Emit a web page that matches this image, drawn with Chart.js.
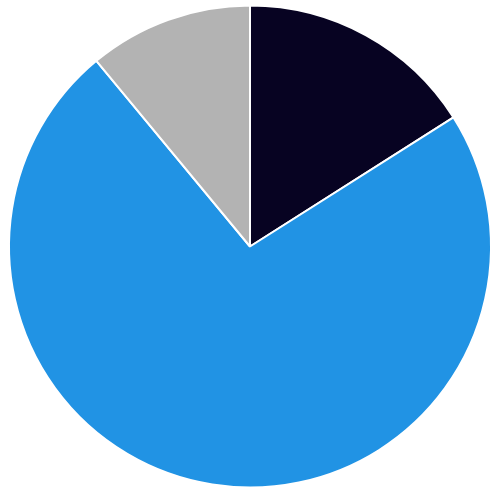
<!DOCTYPE html>
<html>
<head>
<meta charset="utf-8">
<script src="https://cdn.jsdelivr.net/npm/chart.js@4/dist/chart.umd.min.js"></script>
<style>
  html, body { margin: 0; padding: 0; background: #fff; }
  #wrap { width: 500px; height: 500px; }
</style>
</head>
<body>
<div id="wrap"><canvas id="pie"></canvas></div>
<script>
// Slice data, clockwise from 12 o'clock
var labels = ["A", "B", "C"];
var values = [16, 73, 11];
var colors = ["#070322", "#2193e4", "#b3b3b3"];

var ctx = document.getElementById('pie');
var myChart = new Chart(ctx, {
    type: 'pie',
    data: {
        labels: labels,
        datasets: [{
            data: values,
            backgroundColor: colors,
            borderColor: "#ffffff",
            borderWidth: 2
        }]
    },
    options: {
        responsive: true,
        maintainAspectRatio: false,
        animation: false,
        layout: { padding: { top: 4, bottom: 11, left: 8, right: 8 } },
        plugins: {
            legend: { display: false },
            tooltip: { enabled: false }
        }
    }
});
</script>
</body>
</html>
